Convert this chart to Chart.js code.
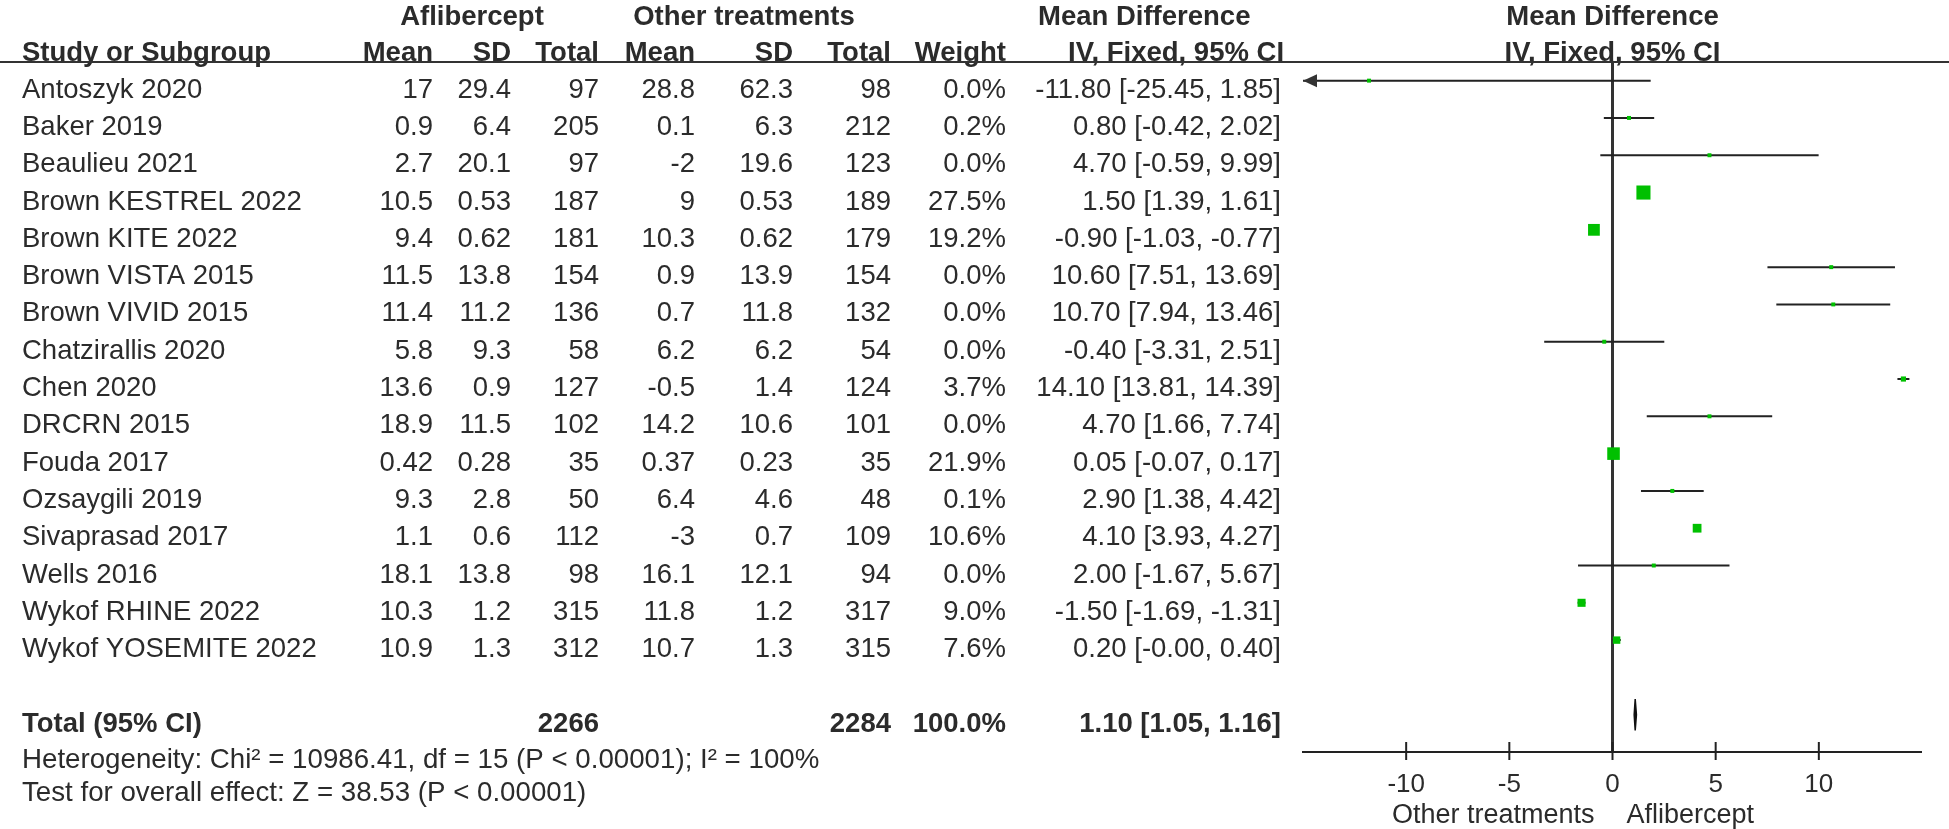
<!DOCTYPE html>
<html>
<head>
<meta charset="utf-8">
<script src="https://cdn.jsdelivr.net/npm/chart.js@4.4.0/dist/chart.umd.min.js"></script>
<style>
  html, body { margin: 0; padding: 0; background: #fff; }
  #wrap { width: 1949px; height: 829px; }
</style>
</head>
<body>
<div id="wrap"><canvas id="forest" width="1949" height="829"></canvas></div>
<script>
// data
const studies = ['Antoszyk 2020', 'Baker 2019', 'Beaulieu 2021', 'Brown KESTREL 2022', 'Brown KITE 2022',
  'Brown VISTA 2015', 'Brown VIVID 2015', 'Chatzirallis 2020', 'Chen 2020', 'DRCRN 2015', 'Fouda 2017',
  'Ozsaygili 2019', 'Sivaprasad 2017', 'Wells 2016', 'Wykof RHINE 2022', 'Wykof YOSEMITE 2022'];
const aflMean = [17, 0.9, 2.7, 10.5, 9.4, 11.5, 11.4, 5.8, 13.6, 18.9, 0.42, 9.3, 1.1, 18.1, 10.3, 10.9];
const aflSD = [29.4, 6.4, 20.1, 0.53, 0.62, 13.8, 11.2, 9.3, 0.9, 11.5, 0.28, 2.8, 0.6, 13.8, 1.2, 1.3];
const aflTotal = [97, 205, 97, 187, 181, 154, 136, 58, 127, 102, 35, 50, 112, 98, 315, 312];
const othMean = [28.8, 0.1, -2, 9, 10.3, 0.9, 0.7, 6.2, -0.5, 14.2, 0.37, 6.4, -3, 16.1, 11.8, 10.7];
const othSD = [62.3, 6.3, 19.6, 0.53, 0.62, 13.9, 11.8, 6.2, 1.4, 10.6, 0.23, 4.6, 0.7, 12.1, 1.2, 1.3];
const othTotal = [98, 212, 123, 189, 179, 154, 132, 54, 124, 101, 35, 48, 109, 94, 317, 315];
const weights = [0.0, 0.2, 0.0, 27.5, 19.2, 0.0, 0.0, 0.0, 3.7, 0.0, 21.9, 0.1, 10.6, 0.0, 9.0, 7.6];
const meanDiff = [-11.80, 0.80, 4.70, 1.50, -0.90, 10.60, 10.70, -0.40, 14.10, 4.70, 0.05, 2.90, 4.10, 2.00, -1.50, 0.20];
const ciLow = [-25.45, -0.42, -0.59, 1.39, -1.03, 7.51, 7.94, -3.31, 13.81, 1.66, -0.07, 1.38, 3.93, -1.67, -1.69, -0.00];
const ciHigh = [1.85, 2.02, 9.99, 1.61, -0.77, 13.69, 13.46, 2.51, 14.39, 7.74, 0.17, 4.42, 4.27, 5.67, -1.31, 0.40];

const totalAfl = 2266;
const totalOth = 2284;
const totalWeight = 100.0;
const totalMD = 1.10;
const totalLow = 1.05;
const totalHigh = 1.16;

const xTicks = [-10, -5, 0, 5, 10];
const favourLabels = ['Other treatments', 'Aflibercept'];
const groupHeaders = ['Aflibercept', 'Other treatments'];
const footnotes = [
  'Heterogeneity: Chi\u00b2 = 10986.41, df = 15 (P < 0.00001); I\u00b2 = 100%',
  'Test for overall effect: Z = 38.53 (P < 0.00001)'
];

const FONT = '"Liberation Sans", Arial, sans-serif';
const INK = '#2b2b2b';

// -0.00 has to keep its sign like in the table
const fmt2 = (v) => ((v < 0 || Object.is(v, -0)) ? '-' : '') + Math.abs(v).toFixed(2);
const ciText = (m, lo, hi) => `${fmt2(m)} [${fmt2(lo)}, ${fmt2(hi)}]`;

const totalRow = studies.length + 1;

// CI segments, one gap point after each study
const ciPoints = [];
studies.forEach((s, i) => {
  ciPoints.push({ x: ciLow[i], y: i }, { x: ciHigh[i], y: i }, { x: ciHigh[i], y: null });
});

const diamond = [
  { x: totalLow, y: totalRow }, { x: totalMD, y: totalRow - 0.42 },
  { x: totalHigh, y: totalRow }, { x: totalMD, y: totalRow + 0.42 },
  { x: totalLow, y: totalRow }
];

// box area follows the weight
const boxRadius = weights.map((w) => Math.max(2.8, 1.9 * Math.sqrt(w)));

const tablePlugin = {
  id: 'table',
  afterDraw(chart) {
    const ctx = chart.ctx;
    const xs = chart.scales.x;
    const ys = chart.scales.y;
    const area = chart.chartArea;
    const mid = (area.left + area.right) / 2;

    ctx.save();
    ctx.fillStyle = INK;

    const put = (txt, x, y, align, bold, size) => {
      ctx.font = (bold ? 'bold ' : '') + (size || 27.5) + 'px ' + FONT;
      ctx.textAlign = align;
      ctx.textBaseline = 'alphabetic';
      ctx.fillText(txt, x, y);
    };

    // headers
    put(groupHeaders[0], 472, 25, 'center', true);
    put(groupHeaders[1], 744, 25, 'center', true);
    put('Mean Difference', 1038, 25, 'left', true);
    put('Mean Difference', mid, 25, 'center', true);
    put('Study or Subgroup', 22, 61, 'left', true);
    put('Mean', 433, 61, 'right', true);
    put('SD', 511, 61, 'right', true);
    put('Total', 599, 61, 'right', true);
    put('Mean', 695, 61, 'right', true);
    put('SD', 793, 61, 'right', true);
    put('Total', 891, 61, 'right', true);
    put('Weight', 1006, 61, 'right', true);
    put('IV, Fixed, 95% CI', 1068, 61, 'left', true);
    put('IV, Fixed, 95% CI', mid, 61, 'center', true);

    // rule under the headers
    ctx.strokeStyle = '#333';
    ctx.lineWidth = 2;
    ctx.beginPath();
    ctx.moveTo(0, area.top);
    ctx.lineTo(chart.width, area.top);
    ctx.stroke();

    // study rows
    studies.forEach((s, i) => {
      const y = ys.getPixelForValue(i) + 17;
      put(s, 22, y, 'left');
      put(String(aflMean[i]), 433, y, 'right');
      put(String(aflSD[i]), 511, y, 'right');
      put(String(aflTotal[i]), 599, y, 'right');
      put(String(othMean[i]), 695, y, 'right');
      put(String(othSD[i]), 793, y, 'right');
      put(String(othTotal[i]), 891, y, 'right');
      put(weights[i].toFixed(1) + '%', 1006, y, 'right');
      put(ciText(meanDiff[i], ciLow[i], ciHigh[i]), 1281, y, 'right');
    });

    // total row
    const ty = ys.getPixelForValue(totalRow) + 17;
    put('Total (95% CI)', 22, ty, 'left', true);
    put(String(totalAfl), 599, ty, 'right', true);
    put(String(totalOth), 891, ty, 'right', true);
    put(totalWeight.toFixed(1) + '%', 1006, ty, 'right', true);
    put(ciText(totalMD, totalLow, totalHigh), 1281, ty, 'right', true);

    footnotes.forEach((f, k) => {
      put(f, 22, ys.getPixelForValue(totalRow + 1 + k) + 16 - 4 * k, 'left', false, 27.7);
    });

    // arrows for intervals running off the scale
    ctx.fillStyle = '#333';
    studies.forEach((s, i) => {
      const y = ys.getPixelForValue(i);
      if (ciLow[i] < xs.min) {
        ctx.beginPath();
        ctx.moveTo(area.left, y);
        ctx.lineTo(area.left + 14, y - 6.5);
        ctx.lineTo(area.left + 14, y + 6.5);
        ctx.closePath();
        ctx.fill();
      }
      if (ciHigh[i] > xs.max) {
        ctx.beginPath();
        ctx.moveTo(area.right, y);
        ctx.lineTo(area.right - 14, y - 6.5);
        ctx.lineTo(area.right - 14, y + 6.5);
        ctx.closePath();
        ctx.fill();
      }
    });

    // tick marks cross the axis line
    ctx.strokeStyle = '#222';
    ctx.lineWidth = 2;
    xs.ticks.forEach((t) => {
      const x = xs.getPixelForValue(t.value);
      ctx.beginPath();
      ctx.moveTo(x, area.bottom - 10);
      ctx.lineTo(x, area.bottom + 8);
      ctx.stroke();
    });

    // favours labels
    ctx.fillStyle = INK;
    const x0 = xs.getPixelForValue(0);
    ctx.font = '27px ' + FONT;
    ctx.textBaseline = 'alphabetic';
    ctx.textAlign = 'right';
    ctx.fillText(favourLabels[0], x0 - 18, 823);
    ctx.textAlign = 'left';
    ctx.fillText(favourLabels[1], x0 + 14, 823);
    ctx.restore();
  }
};

new Chart(document.getElementById('forest'), {
  type: 'scatter',
  data: {
    datasets: [
      {
        label: 'CI',
        data: ciPoints,
        showLine: true,
        spanGaps: false,
        borderColor: '#222',
        borderWidth: 2,
        pointRadius: 0,
        order: 2
      },
      {
        label: 'Mean difference',
        data: meanDiff.map((m, i) => ({ x: m, y: i })),
        pointStyle: 'rect',
        pointRadius: boxRadius,
        backgroundColor: '#00c000',
        borderWidth: 0,
        order: 1
      },
      {
        label: 'Total',
        data: diamond,
        showLine: true,
        fill: 'shape',
        backgroundColor: '#111',
        borderColor: '#111',
        borderWidth: 1.5,
        pointRadius: 0,
        order: 0
      }
    ]
  },
  options: {
    responsive: false,
    devicePixelRatio: 1,
    animation: false,
    events: [],
    layout: { padding: { left: 1303, right: 27, top: 62, bottom: 0 } },
    plugins: {
      legend: { display: false },
      tooltip: { enabled: false }
    },
    scales: {
      x: {
        type: 'linear',
        min: -15,
        max: 15,
        afterBuildTicks: (scale) => { scale.ticks = xTicks.map((v) => ({ value: v })); },
        afterFit: (scale) => { scale.height = 77; },
        grid: {
          drawTicks: false,
          color: (c) => (c.tick && c.tick.value === 0 ? '#333' : 'rgba(0,0,0,0)'),
          lineWidth: (c) => (c.tick && c.tick.value === 0 ? 3 : 0)
        },
        border: { display: true, color: '#222', width: 2 },
        ticks: {
          font: { family: FONT, size: 26 },
          color: INK,
          padding: 17
        }
      },
      y: {
        type: 'linear',
        display: false,
        reverse: true,
        min: -0.5,
        max: 18
      }
    }
  },
  plugins: [tablePlugin]
});
</script>
</body>
</html>
